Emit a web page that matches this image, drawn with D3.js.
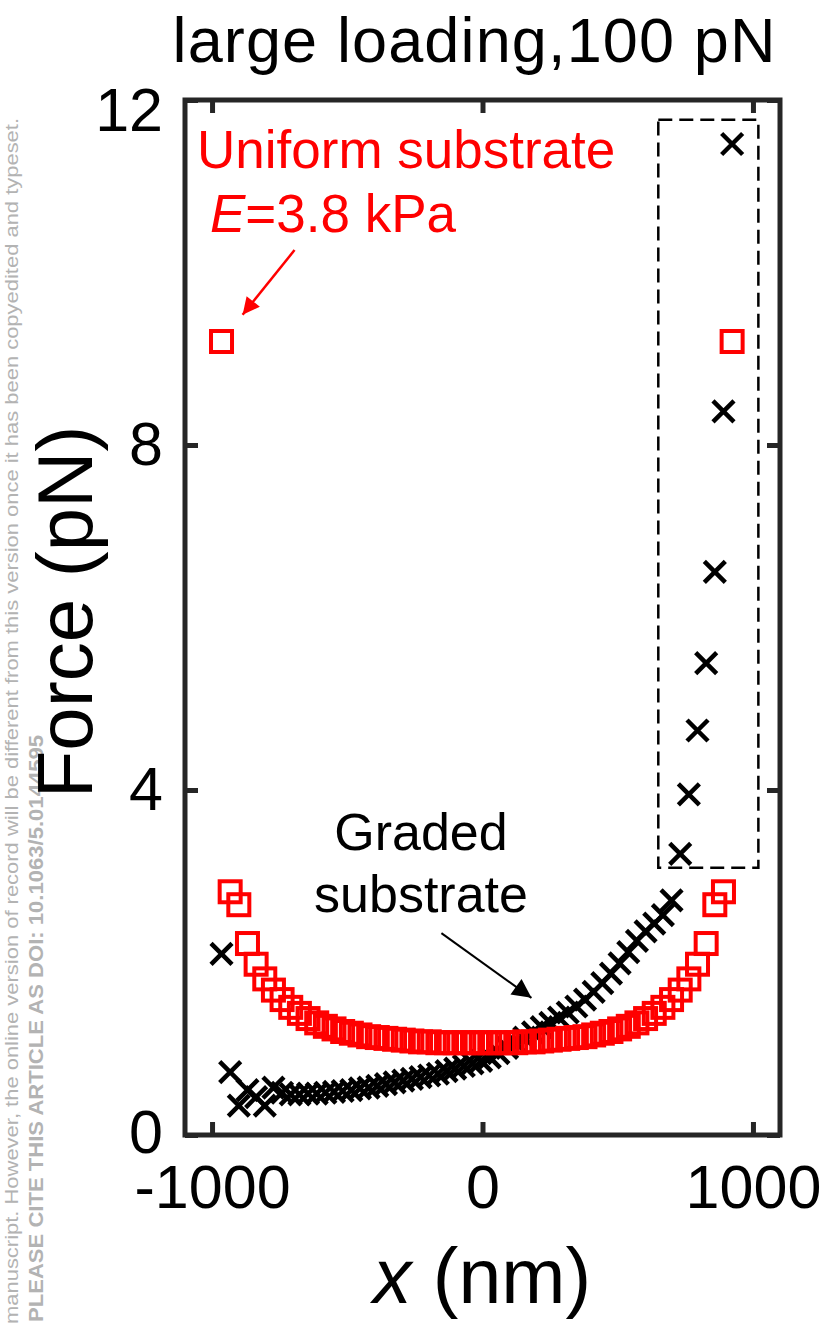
<!DOCTYPE html>
<html>
<head>
<meta charset="utf-8">
<script src="https://cdn.jsdelivr.net/npm/d3@7"></script>
<style>
  body { margin: 0; background: #fff; }
  text { font-family: "Liberation Sans", Arial, sans-serif; }
</style>
</head>
<body>
<div id="chart"></div>
<script>
// positions along the contact (nm)
var xs = [-965, -933, -901, -869, -837, -805, -773, -741, -709, -677,
          -645, -613, -581, -549, -517, -485, -453, -421, -389, -357,
          -325, -293, -261, -229, -197, -165, -133, -101, -69, -37,
          -5, 27, 59, 91, 123, 155, 187, 219, 251, 283,
          315, 347, 379, 411, 443, 475, 507, 539, 571, 603,
          635, 667, 699, 731, 763, 795, 827, 859, 891, 923];

// uniform substrate, E = 3.8 kPa (red squares)
var uniformF = [9.20, 2.82, 2.67, 2.22, 1.98, 1.81, 1.68, 1.57, 1.48, 1.41,
                1.35, 1.30, 1.26, 1.23, 1.20, 1.18, 1.16, 1.14, 1.13, 1.12,
                1.11, 1.10, 1.09, 1.08, 1.08, 1.07, 1.07, 1.07, 1.07, 1.07,
                1.07, 1.07, 1.07, 1.07, 1.07, 1.08, 1.08, 1.09, 1.10, 1.11,
                1.12, 1.13, 1.14, 1.16, 1.18, 1.20, 1.23, 1.26, 1.30, 1.35,
                1.41, 1.48, 1.57, 1.68, 1.81, 1.98, 2.22, 2.67, 2.82, 9.20];

// graded substrate (black crosses)
var gradedF = [2.10, 0.73, 0.34, 0.52, 0.44, 0.34, 0.55, 0.49, 0.47, 0.47,
               0.48, 0.48, 0.49, 0.50, 0.51, 0.52, 0.54, 0.55, 0.57, 0.59,
               0.61, 0.63, 0.65, 0.67, 0.69, 0.71, 0.74, 0.77, 0.80, 0.83,
               0.86, 0.90, 0.95, 1.01, 1.07, 1.13, 1.19, 1.25, 1.30, 1.36,
               1.42, 1.49, 1.57, 1.66, 1.76, 1.87, 1.99, 2.12, 2.25, 2.36,
               2.45, 2.55, 2.72, 3.26, 3.95, 4.69, 5.47, 6.53, 8.39, 11.49];

var xTicks = [-1000, 0, 1000];
var xTickLabels = ['-1000', '0', '1000'];
var yTicks = [0, 4, 8, 12];
var yTickLabels = ['0', '4', '8', '12'];

var width = 822, height = 1327;
var frameColor = '#262626';

var svg = d3.select('#chart')
            .append('svg')
            .attr('width', width)
            .attr('height', height);

var x = d3.scaleLinear().domain([-1100, 1100]).range([185, 780]);
var y = d3.scaleLinear().domain([0, 12]).range([1135, 100]);

// watermark along the left edge
var wm = svg.append('g').style('fill', '#b3b3b3');
wm.append('text')
  .attr('transform', 'translate(18,1324) rotate(-90)')
  .attr('font-size', 19)
  .attr('textLength', 1206)
  .attr('lengthAdjust', 'spacingAndGlyphs')
  .text('manuscript. However, the online version of record will be different from this version once it has been copyedited and typeset.');
wm.append('text')
  .attr('transform', 'translate(43,1322) rotate(-90)')
  .attr('font-size', 21)
  .attr('font-weight', 'bold')
  .attr('textLength', 587)
  .attr('lengthAdjust', 'spacingAndGlyphs')
  .text('PLEASE CITE THIS ARTICLE AS DOI: 10.1063/5.0144595');

// axes with inward ticks
function styleAxis(g) {
   g.select('.domain').remove();
   g.selectAll('.tick line').style('stroke', frameColor).style('stroke-width', 5);
   g.selectAll('.tick text').style('fill', '#000').attr('font-size', 61)
    .style('font-family', '"Liberation Sans", Arial, sans-serif');
}

svg.append('g')
   .attr('transform', 'translate(0,' + y(0) + ')')
   .call(d3.axisBottom(x).tickValues(xTicks).tickSize(-13).tickPadding(30)
           .tickFormat(function(d, i){ return xTickLabels[i]; }))
   .call(styleAxis);

svg.append('g')
   .attr('transform', 'translate(0,' + y(12) + ')')
   .call(d3.axisTop(x).tickValues(xTicks).tickSize(-13).tickFormat(''))
   .call(styleAxis);

var yAx = svg.append('g')
   .attr('transform', 'translate(' + x(-1100) + ',0)')
   .call(d3.axisLeft(y).tickValues(yTicks).tickSize(-13).tickPadding(22)
           .tickFormat(function(d, i){ return yTickLabels[i]; }))
   .call(styleAxis);
// top label sits a little lower, as in the original
yAx.selectAll('.tick text').filter(function(d){ return d === 12; }).attr('dy', '0.5em');
yAx.selectAll('.tick text').filter(function(d){ return d === 0; }).attr('dy', '0.28em');

svg.append('g')
   .attr('transform', 'translate(' + x(1100) + ',0)')
   .call(d3.axisRight(y).tickValues(yTicks).tickSize(-13).tickFormat(''))
   .call(styleAxis);

// dashed box round the steep end of the graded curve
svg.append('rect')
   .attr('x', x(650))
   .attr('y', y(11.77))
   .attr('width', x(1020) - x(650))
   .attr('height', y(3.10) - y(11.77))
   .style('fill', 'none')
   .style('stroke', '#000')
   .style('stroke-width', 2.5)
   .style('stroke-dasharray', '14, 7');

// graded substrate: crosses
svg.append('g')
   .selectAll('path')
   .data(xs)
   .enter()
   .append('path')
   .attr('transform', function(d, i){ return 'translate(' + x(d) + ',' + y(gradedF[i]) + ')'; })
   .attr('d', 'M-10.5,-10.5L10.5,10.5M-10.5,10.5L10.5,-10.5')
   .style('stroke', '#000')
   .style('stroke-width', 4.5)
   .style('fill', 'none');

// uniform substrate: open squares
svg.append('g')
   .selectAll('rect')
   .data(xs)
   .enter()
   .append('rect')
   .attr('x', function(d){ return x(d) - 10.5; })
   .attr('y', function(d, i){ return y(uniformF[i]) - 10.5; })
   .attr('width', 21)
   .attr('height', 21)
   .style('fill', 'none')
   .style('stroke', '#ff0000')
   .style('stroke-width', 4);

// frame
svg.append('rect')
   .attr('x', x(-1100))
   .attr('y', y(12))
   .attr('width', x(1100) - x(-1100))
   .attr('height', y(0) - y(12))
   .style('fill', 'none')
   .style('stroke', frameColor)
   .style('stroke-width', 5);

// arrows
var defs = svg.append('defs');
function marker(id, color, w, h) {
   defs.append('marker')
       .attr('id', id)
       .attr('viewBox', '0 0 10 10')
       .attr('refX', 10)
       .attr('refY', 5)
       .attr('markerUnits', 'userSpaceOnUse')
       .attr('markerWidth', w)
       .attr('markerHeight', h)
       .attr('orient', 'auto')
       .append('path')
       .attr('d', 'M0,0L10,5L0,10Z')
       .style('fill', color);
}
marker('arRed', '#ff0000', 24, 17);
marker('arBlack', '#000', 27, 19);

svg.append('line')
   .attr('x1', x(-695)).attr('y1', y(10.26))
   .attr('x2', x(-887)).attr('y2', y(9.51))
   .style('stroke', '#ff0000').style('stroke-width', 2.5)
   .attr('marker-end', 'url(#arRed)');

svg.append('line')
   .attr('x1', x(-152)).attr('y1', y(2.34))
   .attr('x2', x(181)).attr('y2', y(1.59))
   .style('stroke', '#000').style('stroke-width', 2)
   .attr('marker-end', 'url(#arBlack)');

// annotations
svg.append('text')
   .attr('x', 197).attr('y', 168)
   .attr('font-size', 53)
   .style('fill', '#ff0000')
   .text('Uniform substrate');

var eText = svg.append('text')
   .attr('x', 210).attr('y', 232)
   .attr('font-size', 53)
   .style('fill', '#ff0000');
eText.append('tspan').attr('font-style', 'italic').text('E');
eText.append('tspan').text('=3.8 kPa');

svg.append('text')
   .attr('x', 421).attr('y', 850)
   .attr('font-size', 52)
   .attr('text-anchor', 'middle')
   .text('Graded');
svg.append('text')
   .attr('x', 421).attr('y', 912)
   .attr('font-size', 52)
   .attr('text-anchor', 'middle')
   .text('substrate');

// titles
svg.append('text')
   .attr('x', 474).attr('y', 62)
   .attr('font-size', 63)
   .attr('text-anchor', 'middle')
   .attr('textLength', 603)
   .attr('lengthAdjust', 'spacing')
   .text('large loading,100 pN');

svg.append('text')
   .attr('transform', 'translate(92,612) rotate(-90)')
   .attr('font-size', 78)
   .attr('text-anchor', 'middle')
   .text('Force (pN)');

var xl = svg.append('text')
   .attr('x', 482).attr('y', 1303)
   .attr('font-size', 77)
   .attr('text-anchor', 'middle');
xl.append('tspan').attr('font-style', 'italic').text('x');
xl.append('tspan').text(' (nm)');
</script>
</body>
</html>
